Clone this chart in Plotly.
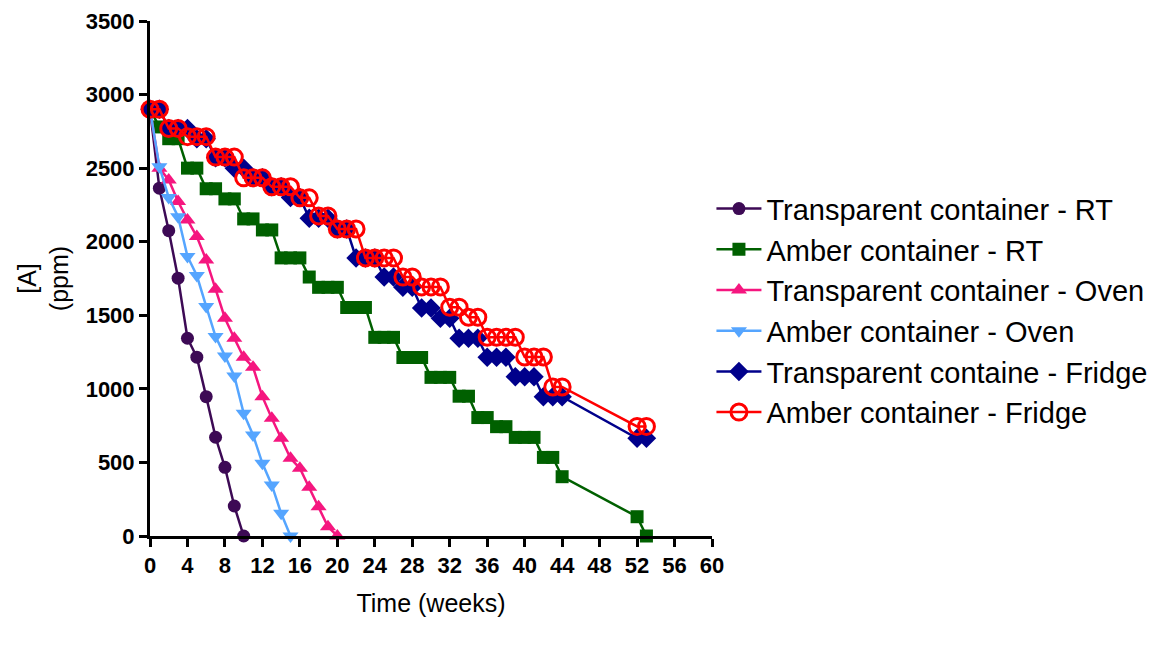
import plotly.graph_objects as go

# ---- data ----
weeks_rt_t = list(range(0, 11))
trans_rt = [2900, 2364, 2075, 1752, 1344, 1215, 947, 671, 467, 204, 0]

weeks_rt_a = list(range(0, 45)) + [52, 53]
amber_rt = [2900, 2780, 2700, 2700, 2500, 2500, 2360, 2360, 2291, 2291,
            2155, 2155, 2080, 2080, 1890, 1890, 1890, 1760, 1690, 1690,
            1690, 1553, 1553, 1553, 1350, 1350, 1350, 1213, 1213, 1213,
            1078, 1078, 1078, 950, 950, 805, 805, 743, 743, 670,
            670, 670, 534, 534, 403, 131, 0]

weeks_oven_t = list(range(0, 21))
trans_oven = [2900, 2500, 2420, 2273, 2148, 2035, 1876, 1677, 1480, 1344,
              1215, 1147, 947, 800, 664, 528, 460, 331, 199, 63, 0]

weeks_oven_a = list(range(0, 16))
amber_oven = [2900, 2510, 2300, 2170, 1900, 1770, 1560, 1355, 1224, 1088,
              834, 687, 494, 347, 154, 0]

weeks_fridge = list(range(0, 45)) + [52, 53]
trans_fridge = [2900, 2900, 2770, 2770, 2770, 2700, 2700, 2570, 2570, 2500,
                2500, 2434, 2434, 2373, 2373, 2300, 2300, 2160, 2160, 2160,
                2087, 2087, 1890, 1890, 1890, 1760, 1760, 1690, 1690, 1550,
                1550, 1480, 1480, 1344, 1344, 1344, 1215, 1215, 1215, 1083,
                1083, 1083, 947, 947, 947, 664, 664]
amber_fridge = [2900, 2900, 2770, 2770, 2714, 2714, 2714, 2575, 2575, 2575,
                2434, 2434, 2434, 2373, 2373, 2373, 2298, 2298, 2175, 2175,
                2087, 2087, 2087, 1890, 1890, 1890, 1890, 1760, 1760, 1693,
                1693, 1693, 1555, 1555, 1487, 1487, 1351, 1351, 1351, 1351,
                1217, 1217, 1217, 1013, 1013, 745, 745]

x_ticks = list(range(0, 61, 4))
y_ticks = list(range(0, 3501, 500))

series = [
    ("Transparent container - RT", weeks_rt_t, trans_rt, "#3d0a55", "circle", 13, 0),
    ("Amber container - RT", weeks_rt_a, amber_rt, "#006000", "square", 13, 0),
    ("Transparent container - Oven", weeks_oven_t, trans_oven, "#f5167f", "triangle-up", 14, 0),
    ("Amber container - Oven", weeks_oven_a, amber_oven, "#55a5ff", "triangle-down", 14, 0),
    ("Transparent containe - Fridge", weeks_fridge, trans_fridge, "#00008b", "diamond", 15, 0),
    ("Amber container - Fridge", weeks_fridge, amber_fridge, "#ff0000", "circle-open", 16, 3),
]

fig = go.Figure()
for i, (name, xs, ys, col, sym, sz, lw) in enumerate(series):
    marker = dict(symbol=sym, size=sz, color=col)
    if lw:
        marker["line"] = dict(width=lw, color=col)
    fig.add_trace(go.Scatter(
        x=xs, y=ys, name=name, mode="lines+markers",
        line=dict(color=col, width=2.5),
        marker=marker, cliponaxis=False, legendgroup=f"g{i}",
    ))

font_family = "Arial, 'Liberation Sans', sans-serif"
tick_font = dict(size=22, family=font_family, color="black", weight="bold")
fig.update_layout(
    width=1160, height=661,
    margin=dict(l=150, r=448, t=21, b=125, autoexpand=False),
    plot_bgcolor="white", paper_bgcolor="white",
    font=dict(family=font_family, color="black"),
    showlegend=True,
    legend=dict(x=0.999, xanchor="left", y=0.685, yanchor="top",
                font=dict(size=29, color="black", family=font_family),
                tracegroupgap=0, traceorder="grouped", itemwidth=45,
                bgcolor="rgba(0,0,0,0)"),
    xaxis=dict(range=[0, 60], tickvals=x_ticks, ticktext=[str(v) for v in x_ticks],
               showgrid=False, zeroline=False, showline=True, linecolor="black",
               linewidth=3, ticks="outside", ticklen=8, tickwidth=3, tickcolor="black",
               tickfont=tick_font,
               title=dict(text="Time (weeks)", font=dict(size=25, color="black"), standoff=18)),
    yaxis=dict(range=[0, 3500], tickvals=y_ticks, ticktext=[str(v) for v in y_ticks],
               showgrid=False, zeroline=False, showline=True, linecolor="black",
               linewidth=3, ticks="outside", ticklen=8, tickwidth=3, tickcolor="black",
               tickfont=tick_font,
               title=dict(text="[A]<br>(ppm)", font=dict(size=25, color="black"), standoff=10)),
)

fig.write_html("out.html")
